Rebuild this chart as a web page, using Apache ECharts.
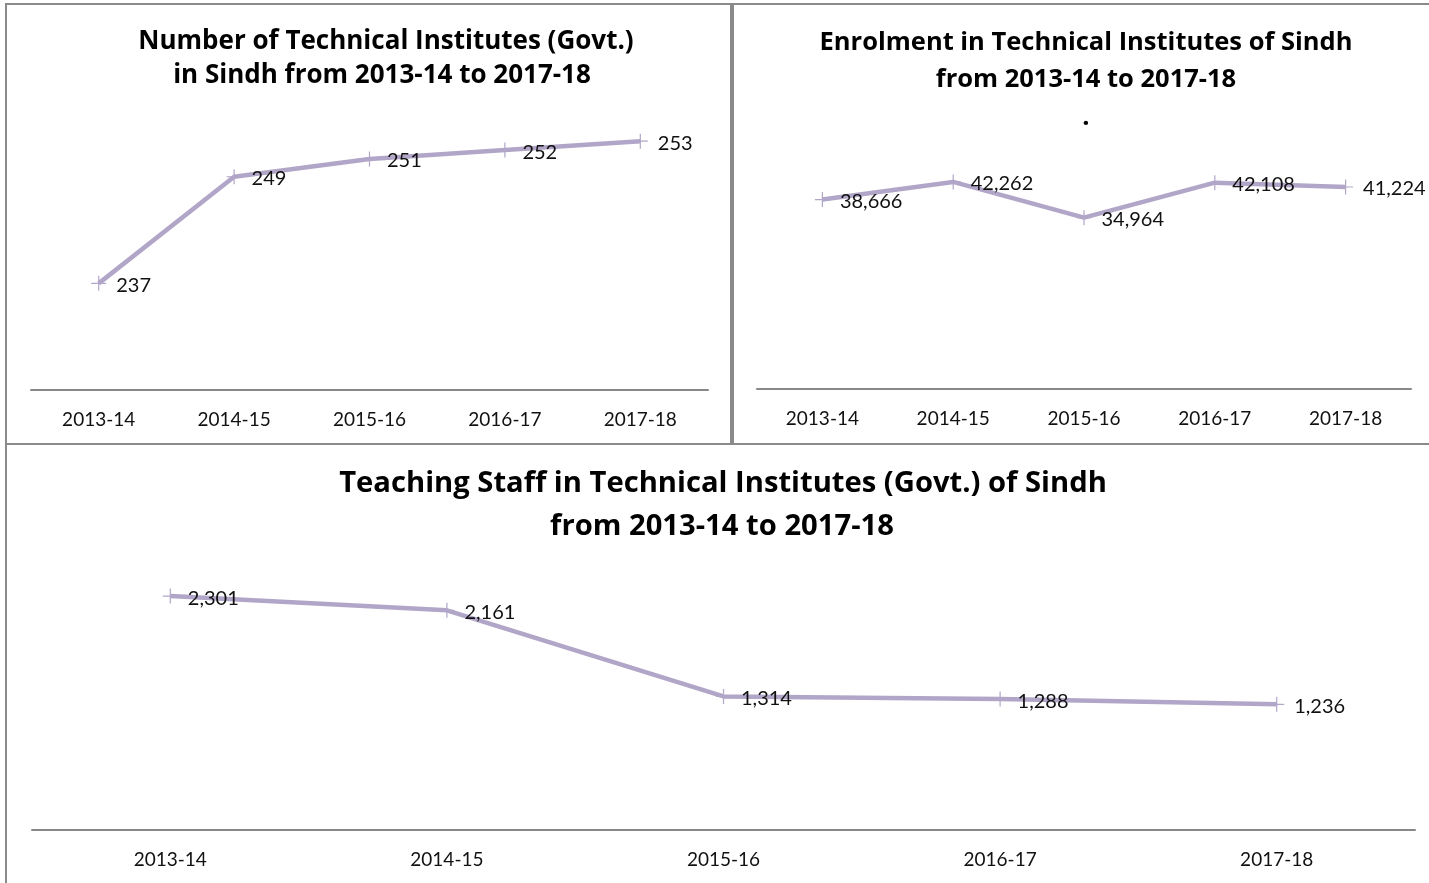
<!DOCTYPE html>
<html>
<head>
<meta charset="utf-8">
<script src="https://cdn.jsdelivr.net/npm/echarts@6/dist/echarts.min.js"></script>
<style>
  html, body { margin: 0; padding: 0; background: #fff; }
  #main { width: 1429px; height: 883px; }
</style>
</head>
<body>
<div id="main"></div>
<script>
// 数据
var years = ['2013-14', '2014-15', '2015-16', '2016-17', '2017-18'];
var institutes = [237, 249, 251, 252, 253];
var enrolment = [38666, 42262, 34964, 42108, 41224];
var teachingStaff = [2301, 2161, 1314, 1288, 1236];

var lineColor = '#b1a6c8';
var borderColor = '#8a8a8a';
var fontName = 'Lato';
var titleFont = 'Open Sans';
// 细十字标记
var plusSymbol = 'path://M4.6,0h0.8v4.6h4.6v0.8h-4.6v4.6h-0.8v-4.6h-4.6v-0.8h4.6z';

function makeX(gridIndex) {
    return {
        type: 'category',
        gridIndex: gridIndex,
        data: years,
        boundaryGap: true,
        axisLine: { lineStyle: { color: '#888888', width: 2 } },
        axisTick: { show: false },
        axisLabel: { color: '#111', fontFamily: fontName, fontSize: 19, margin: 20 }
    };
}

function makeY(gridIndex, min, max) {
    return {
        type: 'value',
        gridIndex: gridIndex,
        min: min,
        max: max,
        show: false,
        splitLine: { show: false }
    };
}

function makeLine(index, data) {
    return {
        type: 'line',
        xAxisIndex: index,
        yAxisIndex: index,
        data: data,
        symbol: plusSymbol,
        symbolSize: 15,
        showAllSymbol: true,
        itemStyle: { color: lineColor },
        lineStyle: { color: lineColor, width: 4.5 },
        label: {
            show: true,
            position: 'right',
            distance: 10,
            offset: [0, 2],
            color: '#111',
            fontFamily: fontName,
            fontSize: 20,
            formatter: function (p) {
                return p.value.toLocaleString('en-US');
            }
        },
        animation: false
    };
}

function titleText(x, y, text, size) {
    return {
        type: 'text',
        x: x,
        y: y,
        style: {
            text: text,
            fontFamily: titleFont,
            fontWeight: 'bold',
            fontSize: size,
            fill: '#000',
            align: 'center',
            verticalAlign: 'middle'
        }
    };
}

function box(x, y, w, h) {
    return {
        type: 'rect',
        shape: { x: x, y: y, width: w, height: h },
        style: { fill: 'none', stroke: borderColor, lineWidth: 2 },
        z: 0
    };
}

var chart = echarts.init(document.getElementById('main'));

var option = {
    backgroundColor: '#fff',
    grid: [
        { left: 31, right: 721, top: 79, bottom: 493 },
        { left: 757, right: 18, top: 144, bottom: 494 },
        { left: 32, right: 14, top: 525, bottom: 53 }
    ],
    xAxis: [makeX(0), makeX(1), makeX(2)],
    yAxis: [makeY(0, 225, 260), makeY(1, 0, 50000), makeY(2, 0, 3000)],
    series: [
        makeLine(0, institutes),
        makeLine(1, enrolment),
        makeLine(2, teachingStaff)
    ],
    graphic: [
        box(6, 4, 725, 440),
        box(733, 4, 700, 440),
        box(6, 444, 1430, 445),
        titleText(386, 42, 'Number of Technical Institutes (Govt.)', 26),
        titleText(382, 76, 'in Sindh from 2013-14 to 2017-18', 26),
        titleText(1086, 43, 'Enrolment in Technical Institutes of Sindh', 25.5),
        titleText(1086, 80, 'from 2013-14 to 2017-18', 25.5),
        titleText(1086, 118, '.', 25.5),
        titleText(723, 484, 'Teaching Staff in Technical Institutes (Govt.) of Sindh', 29.2),
        titleText(722, 527, 'from 2013-14 to 2017-18', 29.2)
    ]
};

chart.setOption(option);
</script>
</body>
</html>
